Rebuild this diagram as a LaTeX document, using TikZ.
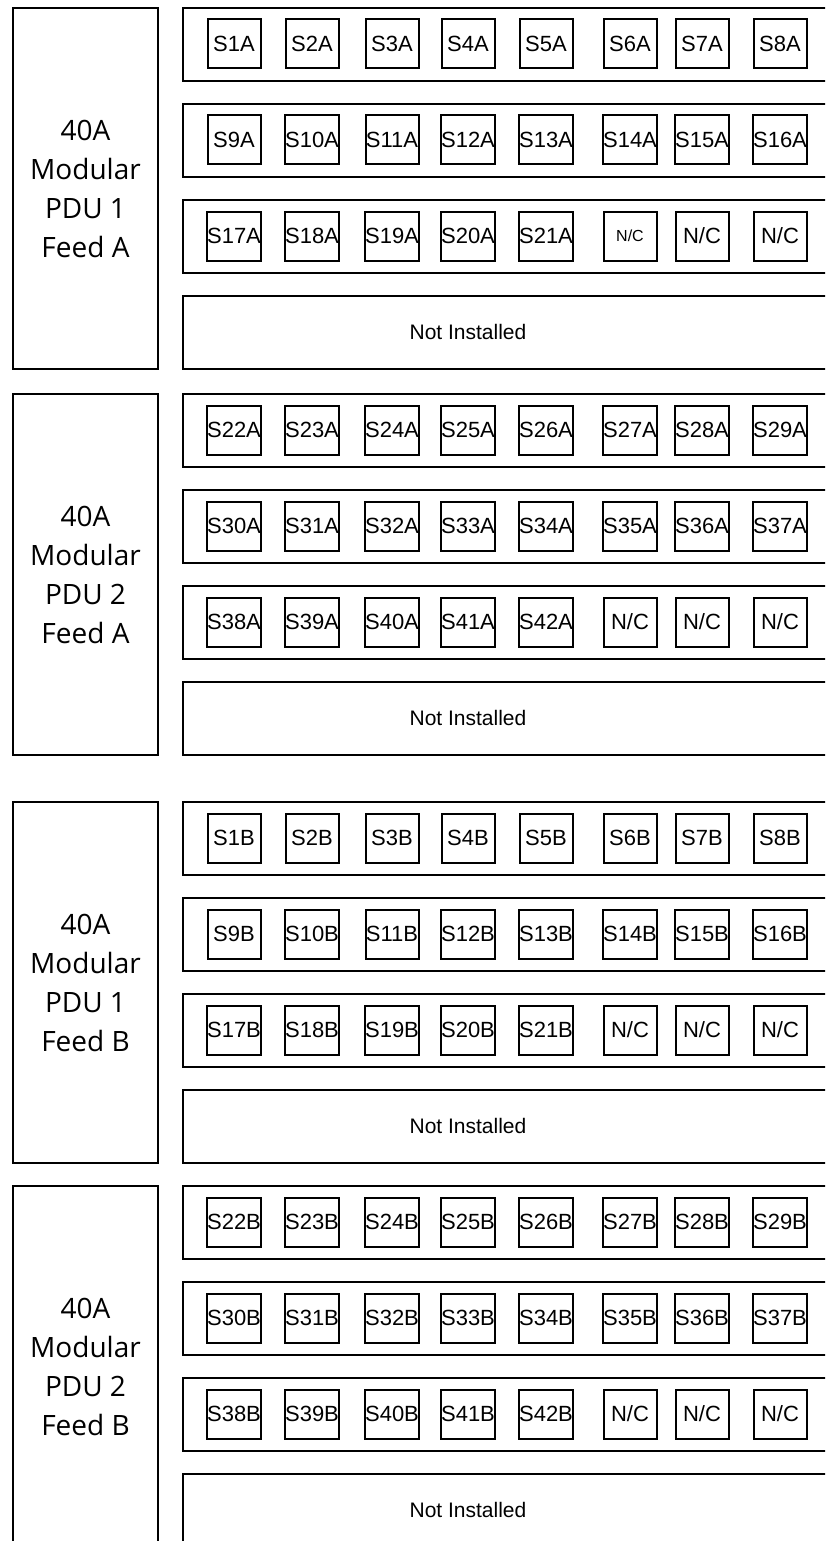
\documentclass[tikz,border=0pt]{standalone}
\usepackage{fontspec}
\setmainfont{Liberation Sans}
\newfontfamily\pdufont{Open Sans}
\tikzset{
  pdubox/.style={draw, line width=2pt, minimum width=145pt, minimum height=361pt,
    inner sep=0pt, align=center, font=\pdufont\fontsize{28}{39}\selectfont},
  rowbox/.style={draw, line width=2pt, minimum width=660pt, minimum height=73pt,
    inner sep=0pt, anchor=north west},
  sock/.style={draw, line width=2pt, minimum width=53pt, minimum height=49pt, inner sep=0pt},
  nitext/.style={inner sep=0pt, font=\fontsize{21}{21}\selectfont}
}
\begin{document}
\begin{tikzpicture}[x=1pt, y=-1pt]
    \useasboundingbox (0,0) rectangle (825,1541);
    \clip (0,0) rectangle (825,1541);
    % one group per PDU feed
    \foreach \g/\y/\n/\f/\b/\s in {a1/7/1/A/0/22, a2/393/2/A/21/0, b1/801/1/B/0/0, b2/1185/2/B/21/0} {
        \node (pdu-\g) [pdubox, anchor=north west] at (12,\y) {40A\\Modular\\PDU \n\\Feed \f};
        \foreach \r in {0,1,2,3}
            \node (row-\g-\r) [rowbox] at (182,\y+96*\r) {};
        \foreach \r in {0,1,2} {
            \foreach \x [count=\c] in {234,312,392,468,546,630,702,780} {
                \pgfmathtruncatemacro\k{\b+8*\r+\c}
                \pgfmathtruncatemacro\kmax{\b+21}
                \def\fs{22}
                \ifnum\k=\s \def\fs{16}\fi
                \ifnum\k>\kmax \def\txt{N/C}\else \edef\txt{S\k\f}\fi
                \node (s-\g-\r-\c) [sock, font=\fontsize{\fs}{\fs}\selectfont] at (\x,\y+96*\r+37) {\txt};
            }
        }
        \node (ni-\g) [nitext] at (468,\y+96*3+36.5) {Not Installed};
    }
\end{tikzpicture}
\end{document}
